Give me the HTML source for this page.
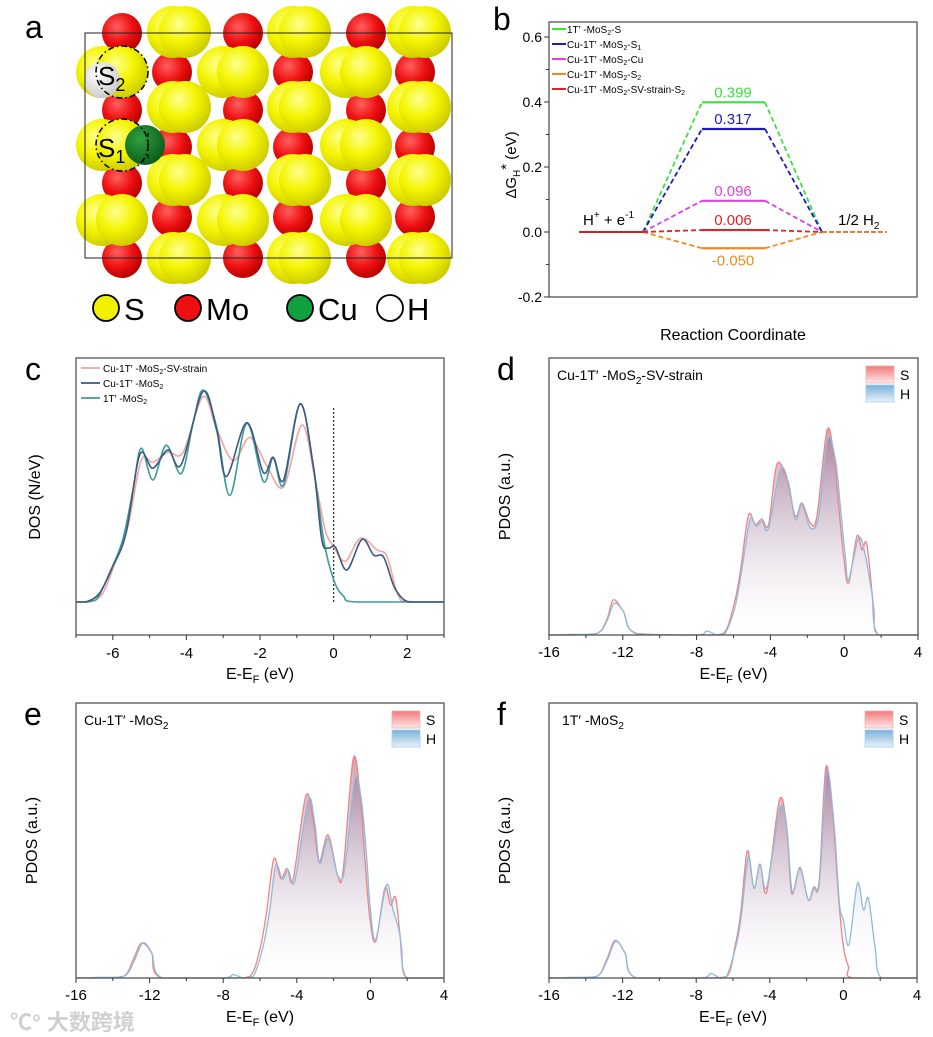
<!DOCTYPE html>
<html><head><meta charset="utf-8">
<style>
body{margin:0;background:#fff;}
svg{display:block;font-family:"Liberation Sans","Noto Sans CJK SC",sans-serif;}
</style></head>
<body>
<svg id="fig" width="933" height="1037" viewBox="0 0 933 1037" xmlns="http://www.w3.org/2000/svg">
<defs>
<radialGradient id="gY" cx="0.38" cy="0.35" r="0.7"><stop offset="0" stop-color="#ffff90"/><stop offset="0.5" stop-color="#f4f400"/><stop offset="1" stop-color="#c8c800"/></radialGradient>
<radialGradient id="gR" cx="0.38" cy="0.35" r="0.7"><stop offset="0" stop-color="#ff6060"/><stop offset="0.55" stop-color="#ee1010"/><stop offset="1" stop-color="#b00000"/></radialGradient>
<radialGradient id="gW" cx="0.38" cy="0.35" r="0.7"><stop offset="0" stop-color="#ffffff"/><stop offset="1" stop-color="#c8c8c8"/></radialGradient>
<radialGradient id="gG" cx="0.38" cy="0.35" r="0.7"><stop offset="0" stop-color="#30a040"/><stop offset="1" stop-color="#0a5a18"/></radialGradient>
<linearGradient id="gS" x1="0" y1="0" x2="0" y2="1"><stop offset="0" stop-color="#b8607a" stop-opacity="0.6"/><stop offset="1" stop-color="#ffffff" stop-opacity="0.05"/></linearGradient>
<linearGradient id="gH" x1="0" y1="0" x2="0" y2="1"><stop offset="0" stop-color="#5878a8" stop-opacity="0.55"/><stop offset="1" stop-color="#ffffff" stop-opacity="0.05"/></linearGradient>
<linearGradient id="gLS" x1="0" y1="0" x2="0" y2="1"><stop offset="0" stop-color="#f47a7a"/><stop offset="1" stop-color="#fde8e8"/></linearGradient>
<linearGradient id="gLH" x1="0" y1="0" x2="0" y2="1"><stop offset="0" stop-color="#7ab0d8"/><stop offset="1" stop-color="#e8f2fa"/></linearGradient>
</defs>
<g id="pa"></g>
<g id="pb"></g>
<g id="pc"></g>
<g id="pd"></g>
<g id="pe"></g>
<g id="pf"></g>
<text x="10" y="1030" font-size="22" fill="#d0d0d0" font-weight="bold">℃° 大数跨境</text>
</svg>
<script>
// ---------- Panel b data ----------
const bSeries = ["1T′ -MoS2-S","Cu-1T′ -MoS2-S1","Cu-1T′ -MoS2-Cu","Cu-1T′ -MoS2-S2","Cu-1T′ -MoS2-SV-strain-S2"];
const bValues = [0.399, 0.317, 0.096, -0.050, 0.006];
const bLabels = ["0.399","0.317","0.096","-0.050","0.006"];
const bColors = ["#3ee03e","#1c1cc0","#e040e0","#f08a20","#e02424"];
const bTicks = [-0.2, 0.0, 0.2, 0.4, 0.6];
const bTickLabels = ["-0.2","0.0","0.2","0.4","0.6"];

// ---------- Panel c data (energy eV, DOS arb.) ----------
const cTicks = [-6,-4,-2,0,2];
const cTickLabels = ["-6","-4","-2","0","2"];
const dosTealE = [-7,-6.82,-6.45,-6.09,-5.73,-5.45,-5.23,-4.91,-4.55,-4.14,-3.82,-3.55,-3.18,-2.82,-2.36,-1.91,-1.64,-1.36,-0.91,-0.55,-0.27,0,0.27,0.64,3];
const dosTealV = [0,0,1.1,13.6,29.2,52.7,72.2,57.3,73.6,60.3,83.8,99.5,82.3,50,83.8,56.6,67.5,55,93,63.6,29.2,10.5,2.7,0,0];
const dosNavyE = [-7,-6.73,-6.36,-6.0,-5.64,-5.27,-4.91,-4.5,-4.14,-3.55,-3.18,-2.91,-2.36,-1.91,-1.64,-1.36,-0.91,-0.55,-0.32,-0.14,0.05,0.36,0.77,1.09,1.36,1.64,1.91,2.18,3];
const dosNavyV = [0,0,4.2,16.7,32.3,69.1,62.8,71.4,64.5,98.8,80.8,58.9,84.2,60.8,68,57.3,93,63.6,29.2,25.3,25.8,15.0,29.4,22.0,21.1,7.3,1.1,0,0];
const dosPinkE = [-7,-6.64,-6.27,-5.91,-5.59,-5.23,-4.91,-4.5,-4.09,-3.55,-3.18,-2.73,-2.27,-1.82,-1.36,-0.86,-0.5,-0.23,0,0.32,0.73,1.18,1.45,1.73,2.0,3];
const dosPinkV = [0,0,4.2,19.8,35.5,66.4,65.6,70.3,70.3,96.4,81.4,66.4,77.3,64.1,54.1,83.1,57.3,33.9,26.1,19.1,30.0,24.5,21.4,4.2,0,0];

// ---------- PDOS data ----------
const pTicks = [-16,-12,-8,-4,0,4];
const pTickLabels = ["-16","-12","-8","-4","0","4"];
const dSE = [-16,-14.86,-13.41,-12.87,-12.51,-11.97,-11.24,-7.63,-6.54,-6.0,-5.64,-5.19,-4.82,-4.46,-4.1,-3.65,-3.11,-2.65,-2.29,-1.84,-1.48,-0.94,-0.58,-0.3,-0.03,0.24,0.69,0.96,1.23,1.59,1.87,4];
const dSV = [0,0,0.8,7.5,17.5,11.7,0.8,0,0.8,14.2,30.8,59.5,55,57.8,55,85,77.5,59.2,65.8,55.8,59.2,101.7,90.8,64.2,39.2,25.8,49.2,42.5,45,14.2,0,0];
const dHE = [-16,-14.86,-13.41,-12.87,-12.47,-11.97,-11.24,-7.99,-7.45,-6.9,-6.45,-5.91,-5.55,-5.1,-4.77,-4.46,-4.1,-3.47,-3.02,-2.65,-2.29,-1.84,-1.39,-0.9,-0.48,-0.21,0.06,0.24,0.78,1.14,1.5,1.87,4];
const dHV = [0,0.3,0.8,6.7,15.8,11.7,0.5,0,2,0,0.8,14.2,32.5,57.5,54.2,56.7,53.3,82.5,75.8,57.5,65,53.3,59.2,97.5,87.5,64.2,39.2,27.5,48.3,40,20.8,0,0];
const eSE = [-16,-14.88,-13.43,-12.89,-12.43,-11.89,-11.35,-7.64,-6.55,-6.01,-5.65,-5.25,-4.87,-4.52,-4.2,-3.51,-3.11,-2.79,-2.3,-1.76,-1.48,-0.94,-0.58,-0.31,-0.04,0.29,0.78,1.09,1.38,1.68,1.99,4];
const eSV = [0,0,0.8,9.2,17.5,12.5,0,0,0.8,14.2,32.5,59.7,50,55,49.5,91.3,79.2,58.3,71.7,50.8,54.2,109.7,94.2,60.8,30.8,18.3,45,36.7,40,15.8,0,0];
const eHE = [-16,-14.88,-13.43,-12.89,-12.38,-11.89,-11.29,-8,-7.46,-6.91,-6.37,-5.83,-5.47,-5.14,-4.78,-4.47,-4.11,-3.38,-3.02,-2.75,-2.3,-1.76,-1.39,-0.85,-0.49,-0.22,0,0.29,0.87,1.23,1.59,1.99,4];
const eHV = [0,0.3,0.8,7.5,17.5,12.8,0,0,1.7,0,0.8,15.8,34.2,56.7,49.5,54.2,48.8,89.2,77.5,57.5,70,51.2,55,99.7,89.2,62.5,34.2,19.2,46.7,34.2,22.5,0,0];
const fSE = [-16,-14.86,-13.41,-12.87,-12.41,-11.87,-11.24,-7.61,-6.34,-5.89,-5.58,-5.22,-4.86,-4.53,-4.17,-3.48,-3.08,-2.81,-2.36,-1.91,-1.6,-1.31,-0.95,-0.55,-0.28,0,0.27,0.54,4];
const fSV = [0,0,0.8,9.2,18.8,12.5,0,0,0.8,15.8,32.5,63.8,45,57.2,43.3,89.2,75.8,42.5,55.5,39.2,45.5,49.2,105.8,79.2,42.5,15.8,5.8,0,0];
const fHE = [-16,-14.86,-13.41,-12.87,-12.38,-11.87,-11.24,-7.79,-7.21,-6.71,-6.34,-5.8,-5.53,-5.17,-4.86,-4.53,-4.17,-3.45,-3.08,-2.78,-2.36,-1.91,-1.63,-1.31,-0.91,-0.51,-0.22,0,0.3,0.76,1.09,1.36,1.72,2.08,4];
const fHV = [0,0.3,0.8,8.3,18.3,12.5,0,0,2.2,0,0.8,17.5,32.5,60.8,45,56.7,45.5,85,75.8,43.3,55,39.2,45.5,47.5,103.3,77.5,37.5,29.2,16.7,47.5,34.2,40,15.8,0,0];

const NS="http://www.w3.org/2000/svg";
function mk(parent,tag,attrs,text){const e=document.createElementNS(NS,tag);for(const k in attrs)e.setAttribute(k,attrs[k]);if(text!==undefined)e.textContent=text;parent.appendChild(e);return e;}
function smooth(pts,base){
  let d="M"+pts[0][0].toFixed(1)+","+pts[0][1].toFixed(1);
  for(let i=0;i<pts.length-1;i++){
    const p0=pts[Math.max(0,i-1)],p1=pts[i],p2=pts[i+1],p3=pts[Math.min(pts.length-1,i+2)];
    let c1x=p1[0]+(p2[0]-p0[0])/6,c1y=p1[1]+(p2[1]-p0[1])/6;
    let c2x=p2[0]-(p3[0]-p1[0])/6,c2y=p2[1]-(p3[1]-p1[1])/6;
    if(base!==undefined){c1y=Math.min(c1y,base);c2y=Math.min(c2y,base);}
    d+=" C"+c1x.toFixed(1)+","+c1y.toFixed(1)+" "+c2x.toFixed(1)+","+c2y.toFixed(1)+" "+p2[0].toFixed(1)+","+p2[1].toFixed(1);
  }
  return d;
}
function panelLabel(g,x,y,t){const e=mk(g,"text",{x:x,y:y,"font-size":32},t);}

// ---------- Panel a ----------
(function(){
  const g=document.getElementById('pa');
  panelLabel(g,25,38,"a");
  const reds=[],backs=[],fronts=[];
  [122,243,366].forEach(x=>{[33,110,183,258].forEach(y=>reds.push([x,y]));[72,145,220].forEach(y=>{backs.push([x-20,y]);fronts.push([x,y]);});});
  [[172,185],[293,305],[415,425]].forEach(([rx,yx])=>{[72,147,217].forEach(y=>reds.push([rx,y]));[32,107,180,258].forEach(y=>{backs.push([yx-12,y]);fronts.push([yx,y]);});});
  reds.forEach(p=>{const c=mk(g,"circle",{cx:p[0],cy:p[1],r:20,fill:"url(#gR)"});});
  backs.forEach(p=>{const c=mk(g,"circle",{cx:p[0],cy:p[1],r:26,fill:"url(#gY)"});});
  fronts.forEach(p=>{const c=mk(g,"circle",{cx:p[0],cy:p[1],r:26,fill:"url(#gY)"});});
  let c=mk(g,"circle",{cx:102,cy:80,r:18,fill:"url(#gW)"});
  c=mk(g,"circle",{cx:145,cy:145,r:20,fill:"url(#gG)"});
  [[122,72],[122,145]].forEach(p=>{const d=mk(g,"circle",{cx:p[0],cy:p[1],r:26,fill:"none",stroke:"#000","stroke-width":1.5,"stroke-dasharray":"6,3,1.5,3"});});
  mk(g,"line",{x1:148,y1:133,x2:148,y2:158,stroke:"#000","stroke-width":1.2,"stroke-dasharray":"4,3"});
  let t=mk(g,"text",{x:98,y:85,"font-size":26},"S");
  mk(t,"tspan",{"font-size":18,dy:6},"2");
  t=mk(g,"text",{x:98,y:157,"font-size":26},"S");
  mk(t,"tspan",{"font-size":18,dy:6},"1");
  const r=mk(g,"rect",{x:85,y:33,width:367,height:225,fill:"none",stroke:"#222","stroke-width":1});
  const leg=[[106,"#f0f000","S",124],[188,"#ee1010","Mo",206],[300,"#10a040","Cu",318],[390,"#ffffff","H",407]];
  leg.forEach(l=>{const cc=mk(g,"circle",{cx:l[0],cy:308,r:13,fill:l[1],stroke:"#000","stroke-width":1.8});
    const tt=mk(g,"text",{x:l[3],y:320,"font-size":31},l[2]);});
})();

// ---------- Panel b ----------
(function(){
  const g=document.getElementById('pb');
  panelLabel(g,493,30,"b");
  const X0=549,X1=917,Yt=22,Yb=297;
  const y=v=>232-v*325;
  const ax=mk(g,"rect",{x:X0,y:Yt,width:X1-X0,height:Yb-Yt,fill:"none",stroke:"#555","stroke-width":1.3});
  bTicks.forEach((v,i)=>{mk(g,"line",{x1:X0-5,x2:X0,y1:y(v),y2:y(v),stroke:"#333"});
    const t=mk(g,"text",{x:X0-7,y:y(v)+5,"font-size":14,"text-anchor":"end"},bTickLabels[i]);
    if(i<bTicks.length-1){mk(g,"line",{x1:X0-3,x2:X0,y1:y(v+0.1),y2:y(v+0.1),stroke:"#333"});}});
  const yt=mk(g,"text",{transform:"translate(516,165) rotate(-90)","font-size":15,"text-anchor":"middle"});
  yt.appendChild(document.createTextNode("ΔG"));mk(yt,"tspan",{"font-size":10,dy:4},"H");mk(yt,"tspan",{dy:-9},"*");mk(yt,"tspan",{dy:5}," (eV)");
  const xt=mk(g,"text",{x:733,y:340,"font-size":16,"text-anchor":"middle"},"Reaction Coordinate");
  const L0=579,L1=643,M0=702,M1=765,R0=822,R1=887;
  const order=[0,1,2,3,4];
  order.forEach(i=>{const v=bValues[i],c=bColors[i];
    const m=mk(g,"line",{x1:M0,x2:M1+(i==4?4:0),y1:y(v),y2:y(v),stroke:c,"stroke-width":2.2});
    mk(g,"line",{x1:L1,y1:y(0),x2:M0,y2:y(v),stroke:c,"stroke-width":1.8,"stroke-dasharray":"5,3"});
    mk(g,"line",{x1:M1,y1:y(v),x2:R0,y2:y(0),stroke:c,"stroke-width":1.8,"stroke-dasharray":"5,3"});
    const ty=v<0?y(v)+17:y(v)-5;
    const t=mk(g,"text",{x:733,y:ty,"font-size":15,"text-anchor":"middle",fill:c},bLabels[i]);
  });
  let l=mk(g,"line",{x1:L0,x2:L1,y1:y(0),y2:y(0),stroke:"#d62020","stroke-width":2});
  l=mk(g,"line",{x1:R0,x2:R1,y1:y(0),y2:y(0),stroke:"#e08030","stroke-width":2,"stroke-dasharray":"5,2"});
  let t=mk(g,"text",{x:583,y:225,"font-size":15});
  t.appendChild(document.createTextNode("H"));mk(t,"tspan",{"font-size":10,dy:-7},"+");mk(t,"tspan",{dy:7}," + e");mk(t,"tspan",{"font-size":10,dy:-7},"-1");
  t=mk(g,"text",{x:838,y:225,"font-size":15});
  t.appendChild(document.createTextNode("1/2 H"));mk(t,"tspan",{"font-size":10,dy:4},"2");
  const legT=[["1T′ -MoS","2","-S",""],["Cu-1T′ -MoS","2","-S","1"],["Cu-1T′ -MoS","2","-Cu",""],["Cu-1T′ -MoS","2","-S","2"],["Cu-1T′ -MoS","2","-SV-strain-S","2"]];
  legT.forEach((p,i)=>{const yy=29+i*15;const c=bColors[i];
    const ll=mk(g,"line",{x1:552,x2:566,y1:yy,y2:yy,stroke:c,"stroke-width":2});
    const tt=mk(g,"text",{x:567,y:yy+4,"font-size":10});
    tt.appendChild(document.createTextNode(p[0]));mk(tt,"tspan",{"font-size":7,dy:2},p[1]);mk(tt,"tspan",{dy:-2},p[2]);if(p[3])mk(tt,"tspan",{"font-size":7,dy:2},p[3]);});
})();

// ---------- Panel c ----------
(function(){
  const g=document.getElementById('pc');
  panelLabel(g,25,380,"c");
  const X0=76,X1=444,Yt=358,Yb=635,base=602;
  const x=e=>X0+(e+7)*(X1-X0)/10;
  const y=v=>base-v*2.13;
  const fr=mk(g,"rect",{x:X0,y:Yt,width:X1-X0,height:Yb-Yt,fill:"none",stroke:"#555","stroke-width":1.3});
  cTicks.forEach((v,i)=>{mk(g,"line",{x1:x(v),x2:x(v),y1:Yb,y2:Yb+5,stroke:"#333"});
    const t=mk(g,"text",{x:x(v),y:Yb+23,"font-size":15,"text-anchor":"middle"},cTickLabels[i]);});
  for(let v=-7;v<=3;v+=2){mk(g,"line",{x1:x(v),x2:x(v),y1:Yb,y2:Yb+3,stroke:"#333"});}
  const fl=mk(g,"line",{x1:x(0),x2:x(0),y1:408,y2:base,stroke:"#333","stroke-width":1.3,"stroke-dasharray":"2,2"});
  const series=[[dosPinkE,dosPinkV,"#f4a3a0","line-cu-1t-mos2-sv-strain"],[dosTealE,dosTealV,"#3e9c94","line-1t-mos2"],[dosNavyE,dosNavyV,"#3b5a82","line-cu-1t-mos2"]];
  series.forEach(s=>{const pts=s[0].map((e,i)=>[x(e),y(s[1][i])]);
    const p=mk(g,"path",{d:smooth(pts,base),fill:"none",stroke:s[2],"stroke-width":1.6});});
  const yt=mk(g,"text",{transform:"translate(40,497) rotate(-90)","font-size":16,"text-anchor":"middle"},"DOS (N/eV)");
  const xt=mk(g,"text",{x:260,y:679,"font-size":16,"text-anchor":"middle"});
  xt.appendChild(document.createTextNode("E-E"));mk(xt,"tspan",{"font-size":11,dy:4},"F");mk(xt,"tspan",{dy:-4}," (eV)");
  const legs=[["Cu-1T′ -MoS","2","-SV-strain","#f4a3a0"],["Cu-1T′ -MoS","2","","#3b5a82"],["1T′ -MoS","2","","#3e9c94"]];
  legs.forEach((l,i)=>{const yy=368+i*15;
    const ll=mk(g,"line",{x1:81,x2:100,y1:yy,y2:yy,stroke:l[3],"stroke-width":1.8});
    const t=mk(g,"text",{x:103,y:yy+4,"font-size":10});
    t.appendChild(document.createTextNode(l[0]));mk(t,"tspan",{"font-size":7,dy:2},l[1]);if(l[2])mk(t,"tspan",{dy:-2},l[2]);});
})();

// ---------- PDOS panels ----------
function pdos(id,label,X0,X1,Yt,Yb,SE,SV,HE,HV,title){
  const g=document.getElementById(id);
  panelLabel(g,X0-52,Yt+22,label);
  const x=e=>X0+(e+16)*(X1-X0)/20;
  const y=v=>Yb-v*(Yb-Yt)/138;
  const sp=SE.map((e,i)=>[x(e),y(SV[i])]);
  const hp=HE.map((e,i)=>[x(e),y(HV[i])]);
  const sd=smooth(sp,Yb),hd=smooth(hp,Yb);
  let p=mk(g,"path",{d:hd+" L"+x(4)+","+Yb+" L"+x(-16)+","+Yb+"Z",fill:"url(#gH)",stroke:"none"});
  p=mk(g,"path",{d:sd+" L"+x(4)+","+Yb+" L"+x(-16)+","+Yb+"Z",fill:"url(#gS)",stroke:"none"});
  p=mk(g,"path",{d:sd,fill:"none",stroke:"#f08484","stroke-width":1.3});
  p=mk(g,"path",{d:hd,fill:"none",stroke:"#8dbcdc","stroke-width":1.3});
  const fr=mk(g,"rect",{x:X0,y:Yt,width:X1-X0,height:Yb-Yt,fill:"none",stroke:"#555","stroke-width":1.3});
  pTicks.forEach((v,i)=>{mk(g,"line",{x1:x(v),x2:x(v),y1:Yb,y2:Yb+5,stroke:"#333"});
    const t=mk(g,"text",{x:x(v),y:Yb+22,"font-size":15,"text-anchor":"middle"},pTickLabels[i]);});
  for(let v=-14;v<4;v+=4){mk(g,"line",{x1:x(v),x2:x(v),y1:Yb,y2:Yb+3,stroke:"#333"});}
  const yt=mk(g,"text",{transform:"translate("+(X0-39)+","+((Yt+Yb)/2)+") rotate(-90)","font-size":16,"text-anchor":"middle"},"PDOS (a.u.)");
  const xt=mk(g,"text",{x:(X0+X1)/2,y:Yb+44,"font-size":16,"text-anchor":"middle"});
  xt.appendChild(document.createTextNode("E-E"));mk(xt,"tspan",{"font-size":11,dy:4},"F");mk(xt,"tspan",{dy:-4}," (eV)");
  const tt=mk(g,"text",{x:X0+(title[0].startsWith("1T")?13:8),y:Yt+22,"font-size":14});
  tt.appendChild(document.createTextNode(title[0]));mk(tt,"tspan",{"font-size":10,dy:4},"2");if(title[1])mk(tt,"tspan",{dy:-4},title[1]);
  const lx=X1-52;
  let r=mk(g,"rect",{x:lx,y:Yt+8,width:28,height:17,fill:"url(#gLS)",stroke:"#f4b0b0","stroke-width":0.8});
  r=mk(g,"rect",{x:lx,y:Yt+27,width:28,height:17,fill:"url(#gLH)",stroke:"#a8d0ea","stroke-width":0.8});
  let t=mk(g,"text",{x:lx+34,y:Yt+22,"font-size":14},"S");
  t=mk(g,"text",{x:lx+34,y:Yt+41,"font-size":14},"H");
}
pdos('pd',"d",549,918,358,635,dSE,dSV,dHE,dHV,["Cu-1T′ -MoS","-SV-strain"]);
pdos('pe',"e",76,444,703,978,eSE,eSV,eHE,eHV,["Cu-1T′ -MoS",""]);
pdos('pf',"f",549,917,703,978,fSE,fSV,fHE,fHV,["1T′ -MoS",""]);
</script>
</body></html>
